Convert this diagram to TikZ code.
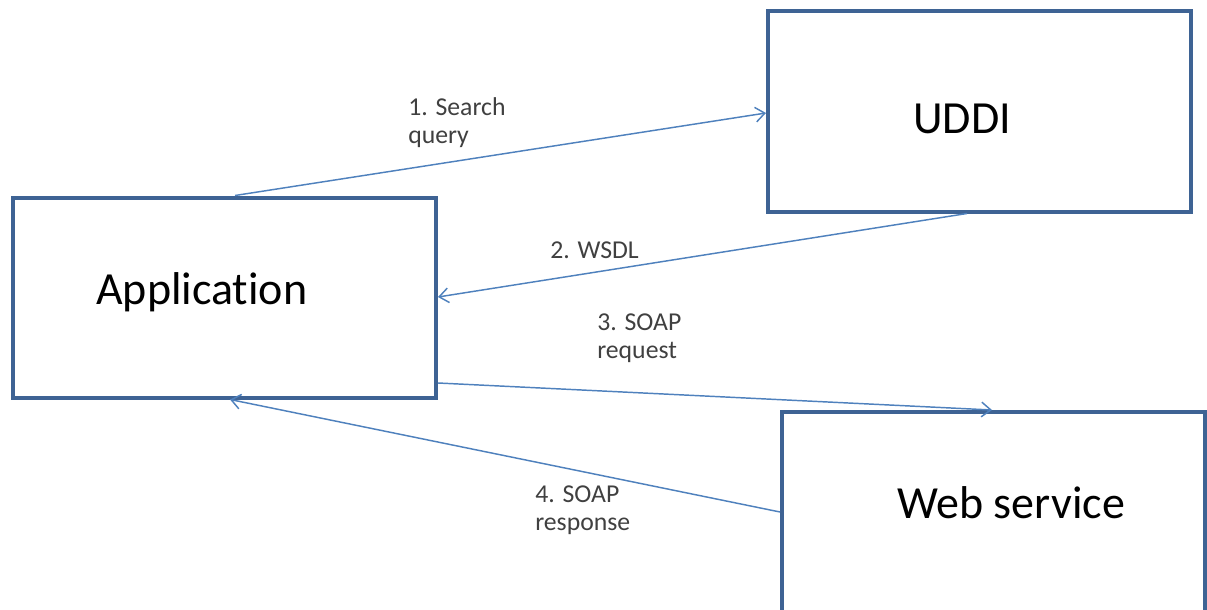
\documentclass[tikz,border=0pt]{standalone}
\usepackage{fontspec}
\setmainfont[RawFeature={-liga;-clig;-calt;-dlig}]{Carlito}
\usetikzlibrary{arrows.meta}
\definecolor{boxblue}{RGB}{62,99,148}
\definecolor{linkblue}{RGB}{79,129,189}
\definecolor{labelgray}{RGB}{64,64,64}
\tikzset{
  block/.style={draw=boxblue, line width=3pt, rectangle, inner sep=0pt,
    minimum width=#1*0.75pt, minimum height=200*0.75pt},
  blocktext/.style={anchor=base west, inner sep=0pt, text=black,
    font=\fontsize{34.5}{38}\selectfont},
  msg/.style={anchor=north west, inner sep=0pt, align=left, text=labelgray,
    font=\fontsize{19.3}{21}\selectfont},
  link/.style={draw=linkblue, line width=1.1pt,
    -{Straight Barb[length=7pt, width=11pt, line width=1.1pt]}}
}
\begin{document}
\begin{tikzpicture}[x=0.75pt, y=-0.75pt]
  \useasboundingbox (0,0) rectangle (1207,610);
  \clip (0,0) rectangle (1207,610);

  % boxes
  \node[block=423] (app) at (224.5,297.5) {};
  \node[block=423] (uddi) at (979.5,111.5) {};
  \node[block=423] (ws) at (993.5,512) {};

  % box captions (kern keeps t and i as separate glyphs)
  \node[blocktext] (appT) at (96,304) {Applicat\kern0pt ion};
  \node[blocktext] (uddiT) at (913,133) {UDDI};
  \node[blocktext] (wsT) at (897,518) {Web service};

  % connector end points on the box borders
  \coordinate (a1) at (235,0 |- app.north);
  \coordinate (u1) at (uddi.west |- 0,113);
  \coordinate (u2) at (967,0 |- uddi.south);
  \coordinate (a2) at (app.east |- 0,297);
  \coordinate (a3) at (app.east |- 0,383);
  \coordinate (w3) at (992,0 |- ws.north);
  \coordinate (w4) at (ws.west |- 0,512);
  \coordinate (a4) at (230,0 |- app.south);

  % message flow
  \draw[link] (a1) -- (u1);
  \draw[link] (u2) -- (a2);
  \draw[link] (a3) -- (w3);
  \draw[link] (w4) -- (a4);

  % message labels
  \node[msg] (m1) at (408,97) {1. Search\\query};
  \node[msg] (m2) at (550,242) {2. WSDL};
  \node[msg] (m3) at (597,314) {3. SOAP\\request};
  \node[msg] (m4) at (535,486) {4. SOAP\\response};
\end{tikzpicture}
\end{document}
